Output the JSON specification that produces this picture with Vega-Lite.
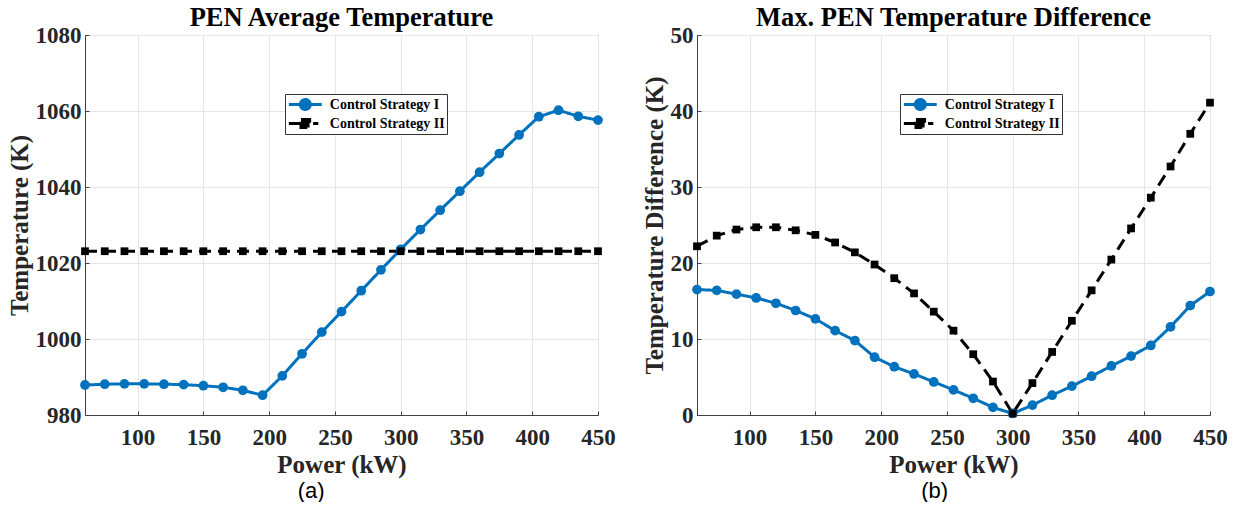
{
  "$schema": "https://vega.github.io/schema/vega-lite/v6.json",
  "background": "white",
  "padding": {"left": 6, "top": 4, "right": 2, "bottom": 0},
  "datasets": {
    "pen": [
      {"p": 60, "s": "Control Strategy I", "avg": 987.9, "dT": 16.5},
      {"p": 75, "s": "Control Strategy I", "avg": 988.1, "dT": 16.4},
      {"p": 90, "s": "Control Strategy I", "avg": 988.2, "dT": 15.9},
      {"p": 105, "s": "Control Strategy I", "avg": 988.2, "dT": 15.4},
      {"p": 120, "s": "Control Strategy I", "avg": 988.1, "dT": 14.7},
      {"p": 135, "s": "Control Strategy I", "avg": 988.0, "dT": 13.75},
      {"p": 150, "s": "Control Strategy I", "avg": 987.7, "dT": 12.65},
      {"p": 165, "s": "Control Strategy I", "avg": 987.3, "dT": 11.1},
      {"p": 180, "s": "Control Strategy I", "avg": 986.5, "dT": 9.8},
      {"p": 195, "s": "Control Strategy I", "avg": 985.2, "dT": 7.6},
      {"p": 210, "s": "Control Strategy I", "avg": 990.3, "dT": 6.35},
      {"p": 225, "s": "Control Strategy I", "avg": 996.1, "dT": 5.4},
      {"p": 240, "s": "Control Strategy I", "avg": 1001.8, "dT": 4.35},
      {"p": 255, "s": "Control Strategy I", "avg": 1007.2, "dT": 3.3},
      {"p": 270, "s": "Control Strategy I", "avg": 1012.7, "dT": 2.2},
      {"p": 285, "s": "Control Strategy I", "avg": 1018.2, "dT": 1.0},
      {"p": 300, "s": "Control Strategy I", "avg": 1023.6, "dT": 0.2},
      {"p": 315, "s": "Control Strategy I", "avg": 1028.8, "dT": 1.3},
      {"p": 330, "s": "Control Strategy I", "avg": 1033.9, "dT": 2.6},
      {"p": 345, "s": "Control Strategy I", "avg": 1038.9, "dT": 3.8},
      {"p": 360, "s": "Control Strategy I", "avg": 1043.9, "dT": 5.1},
      {"p": 375, "s": "Control Strategy I", "avg": 1048.8, "dT": 6.45},
      {"p": 390, "s": "Control Strategy I", "avg": 1053.7, "dT": 7.75},
      {"p": 405, "s": "Control Strategy I", "avg": 1058.5, "dT": 9.15},
      {"p": 420, "s": "Control Strategy I", "avg": 1060.2, "dT": 11.6},
      {"p": 435, "s": "Control Strategy I", "avg": 1058.6, "dT": 14.4},
      {"p": 450, "s": "Control Strategy I", "avg": 1057.6, "dT": 16.25},
      {"p": 60, "s": "Control Strategy II", "avg": 1023.1, "dT": 22.2},
      {"p": 75, "s": "Control Strategy II", "avg": 1023.1, "dT": 23.6},
      {"p": 90, "s": "Control Strategy II", "avg": 1023.1, "dT": 24.4},
      {"p": 105, "s": "Control Strategy II", "avg": 1023.1, "dT": 24.7},
      {"p": 120, "s": "Control Strategy II", "avg": 1023.1, "dT": 24.7},
      {"p": 135, "s": "Control Strategy II", "avg": 1023.1, "dT": 24.3},
      {"p": 150, "s": "Control Strategy II", "avg": 1023.1, "dT": 23.7},
      {"p": 165, "s": "Control Strategy II", "avg": 1023.1, "dT": 22.7},
      {"p": 180, "s": "Control Strategy II", "avg": 1023.1, "dT": 21.4},
      {"p": 195, "s": "Control Strategy II", "avg": 1023.1, "dT": 19.8},
      {"p": 210, "s": "Control Strategy II", "avg": 1023.1, "dT": 18.0},
      {"p": 225, "s": "Control Strategy II", "avg": 1023.1, "dT": 16.0},
      {"p": 240, "s": "Control Strategy II", "avg": 1023.1, "dT": 13.6},
      {"p": 255, "s": "Control Strategy II", "avg": 1023.1, "dT": 11.1},
      {"p": 270, "s": "Control Strategy II", "avg": 1023.1, "dT": 8.0},
      {"p": 285, "s": "Control Strategy II", "avg": 1023.1, "dT": 4.4},
      {"p": 300, "s": "Control Strategy II", "avg": 1023.1, "dT": 0.2},
      {"p": 315, "s": "Control Strategy II", "avg": 1023.1, "dT": 4.2},
      {"p": 330, "s": "Control Strategy II", "avg": 1023.1, "dT": 8.3},
      {"p": 345, "s": "Control Strategy II", "avg": 1023.1, "dT": 12.4},
      {"p": 360, "s": "Control Strategy II", "avg": 1023.1, "dT": 16.4},
      {"p": 375, "s": "Control Strategy II", "avg": 1023.1, "dT": 20.45},
      {"p": 390, "s": "Control Strategy II", "avg": 1023.1, "dT": 24.55},
      {"p": 405, "s": "Control Strategy II", "avg": 1023.1, "dT": 28.6},
      {"p": 420, "s": "Control Strategy II", "avg": 1023.1, "dT": 32.7},
      {"p": 435, "s": "Control Strategy II", "avg": 1023.1, "dT": 37.0},
      {"p": 450, "s": "Control Strategy II", "avg": 1023.1, "dT": 41.1}
    ]
  },
  "config": {
    "font": "Liberation Serif",
    "view": {"stroke": "#5a5a5a", "strokeWidth": 1},
    "axis": {
      "labelFont": "Liberation Serif",
      "labelFontWeight": "bold",
      "labelFontSize": 23,
      "labelColor": "#262626",
      "labelFlush": false,
      "labelOverlap": false,
      "titleFont": "Liberation Serif",
      "titleFontWeight": "bold",
      "titleFontSize": 25,
      "titleColor": "#262626",
      "domainColor": "#404040",
      "domainWidth": 1,
      "gridColor": "#e6e6e6",
      "gridWidth": 1,
      "ticks": true,
      "tickSize": -4,
      "tickColor": "#404040",
      "tickWidth": 1,
      "format": "d"
    },
    "axisX": {"labelPadding": 15, "titlePadding": 3},
    "axisY": {"labelPadding": 8, "titlePadding": 3},
    "title": {
      "font": "Liberation Serif",
      "fontWeight": "bold",
      "fontSize": 26.5,
      "color": "#000000",
      "anchor": "middle",
      "offset": -7
    },
    "legend": {
      "orient": "none",
      "title": null,
      "labelFont": "Liberation Serif",
      "labelFontWeight": "bold",
      "labelFontSize": 14,
      "labelColor": "#000000",
      "strokeColor": "#333333",
      "fillColor": "white",
      "padding": 2,
      "rowPadding": 2,
      "clipHeight": 17,
      "labelOffset": 14,
      "symbolOffset": 7.8,
      "symbolSize": 300,
      "symbolStrokeWidth": 3,
      "symbolOpacity": 1
    }
  },
  "spacing": 25,
  "hconcat": [
    {
      "title": {"text": "(a)", "orient": "bottom", "font": "Liberation Sans", "fontWeight": "normal", "fontSize": 22, "frame": "bounds", "offset": 3},
      "vconcat": [
        {
          "width": 513,
          "height": 380,
          "title": {"text": "PEN Average Temperature"},
          "data": {"name": "pen"},
          "encoding": {
            "x": {"field": "p", "type": "quantitative", "scale": {"domain": [60, 450], "nice": false, "zero": false},
                  "axis": {"values": [100, 150, 200, 250, 300, 350, 400, 450], "title": "Power (kW)"}},
            "y": {"field": "avg", "type": "quantitative", "scale": {"domain": [980, 1080], "nice": false, "zero": false},
                  "axis": {"values": [980, 1000, 1020, 1040, 1060, 1080], "title": "Temperature (K)"}}
          },
          "layer": [
            {
              "mark": {"type": "line", "strokeWidth": 3},
              "encoding": {
                "color": {
                  "field": "s", "type": "nominal",
                  "scale": {"domain": ["Control Strategy I", "Control Strategy II"], "range": ["#0072BD", "#000000"]},
                  "legend": {
                    "legendX": 200, "legendY": 59,
                    "symbolType": "M-1,0H1",
                    "encode": {"symbols": {"update": {
                      "shape": {"signal": "datum.value === 'Control Strategy I' ? 'M-1.9,0H1.9M0.58,0A0.58,0.58,0,1,1,-0.58,0A0.58,0.58,0,1,1,0.58,0Z' : 'M-1.9,0H-0.5M-0.5,-0.46H0.5V0.46H-0.5ZM0.9,0H1.5'"},
                      "fill": {"signal": "datum.value === 'Control Strategy I' ? '#0072BD' : '#000000'"},
                      "stroke": {"signal": "datum.value === 'Control Strategy I' ? '#0072BD' : '#000000'"},
                      "strokeDash": {"value": [1, 0]}
                    }}}
                  }
                },
                "strokeDash": {"field": "s", "type": "nominal", "scale": {"domain": ["Control Strategy I", "Control Strategy II"], "range": [[1, 0], [12, 7]]}, "legend": null}
              }
            },
            {
              "transform": [{"filter": "datum.s === 'Control Strategy I'"}],
              "mark": {"type": "point", "shape": "circle", "filled": true, "opacity": 1, "size": 95, "color": "#0072BD"}
            },
            {
              "transform": [{"filter": "datum.s === 'Control Strategy II'"}],
              "mark": {"type": "point", "shape": "square", "filled": true, "opacity": 1, "size": 60, "color": "#000000"}
            }
          ]
        }
      ]
    },
    {
      "title": {"text": "(b)", "orient": "bottom", "font": "Liberation Sans", "fontWeight": "normal", "fontSize": 22, "frame": "bounds", "offset": 3},
      "vconcat": [
        {
          "width": 513,
          "height": 380,
          "title": {"text": "Max. PEN Temperature Difference"},
          "data": {"name": "pen"},
          "encoding": {
            "x": {"field": "p", "type": "quantitative", "scale": {"domain": [60, 450], "nice": false, "zero": false},
                  "axis": {"values": [100, 150, 200, 250, 300, 350, 400, 450], "title": "Power (kW)"}},
            "y": {"field": "dT", "type": "quantitative", "scale": {"domain": [0, 50], "nice": false},
                  "axis": {"values": [0, 10, 20, 30, 40, 50], "title": "Temperature Difference (K)"}}
          },
          "layer": [
            {
              "mark": {"type": "line", "strokeWidth": 3},
              "encoding": {
                "color": {
                  "field": "s", "type": "nominal",
                  "scale": {"domain": ["Control Strategy I", "Control Strategy II"], "range": ["#0072BD", "#000000"]},
                  "legend": {
                    "legendX": 203, "legendY": 59,
                    "symbolType": "M-1,0H1",
                    "encode": {"symbols": {"update": {
                      "shape": {"signal": "datum.value === 'Control Strategy I' ? 'M-1.9,0H1.9M0.58,0A0.58,0.58,0,1,1,-0.58,0A0.58,0.58,0,1,1,0.58,0Z' : 'M-1.9,0H-0.5M-0.5,-0.46H0.5V0.46H-0.5ZM0.9,0H1.5'"},
                      "fill": {"signal": "datum.value === 'Control Strategy I' ? '#0072BD' : '#000000'"},
                      "stroke": {"signal": "datum.value === 'Control Strategy I' ? '#0072BD' : '#000000'"},
                      "strokeDash": {"value": [1, 0]}
                    }}}
                  }
                },
                "strokeDash": {"field": "s", "type": "nominal", "scale": {"domain": ["Control Strategy I", "Control Strategy II"], "range": [[1, 0], [12, 7]]}, "legend": null}
              }
            },
            {
              "transform": [{"filter": "datum.s === 'Control Strategy I'"}],
              "mark": {"type": "point", "shape": "circle", "filled": true, "opacity": 1, "size": 95, "color": "#0072BD"}
            },
            {
              "transform": [{"filter": "datum.s === 'Control Strategy II'"}],
              "mark": {"type": "point", "shape": "square", "filled": true, "opacity": 1, "size": 60, "color": "#000000"}
            }
          ]
        }
      ]
    }
  ],
  "resolve": {"scale": {"y": "independent", "color": "independent", "strokeDash": "independent"}, "legend": {"color": "independent"}}
}
